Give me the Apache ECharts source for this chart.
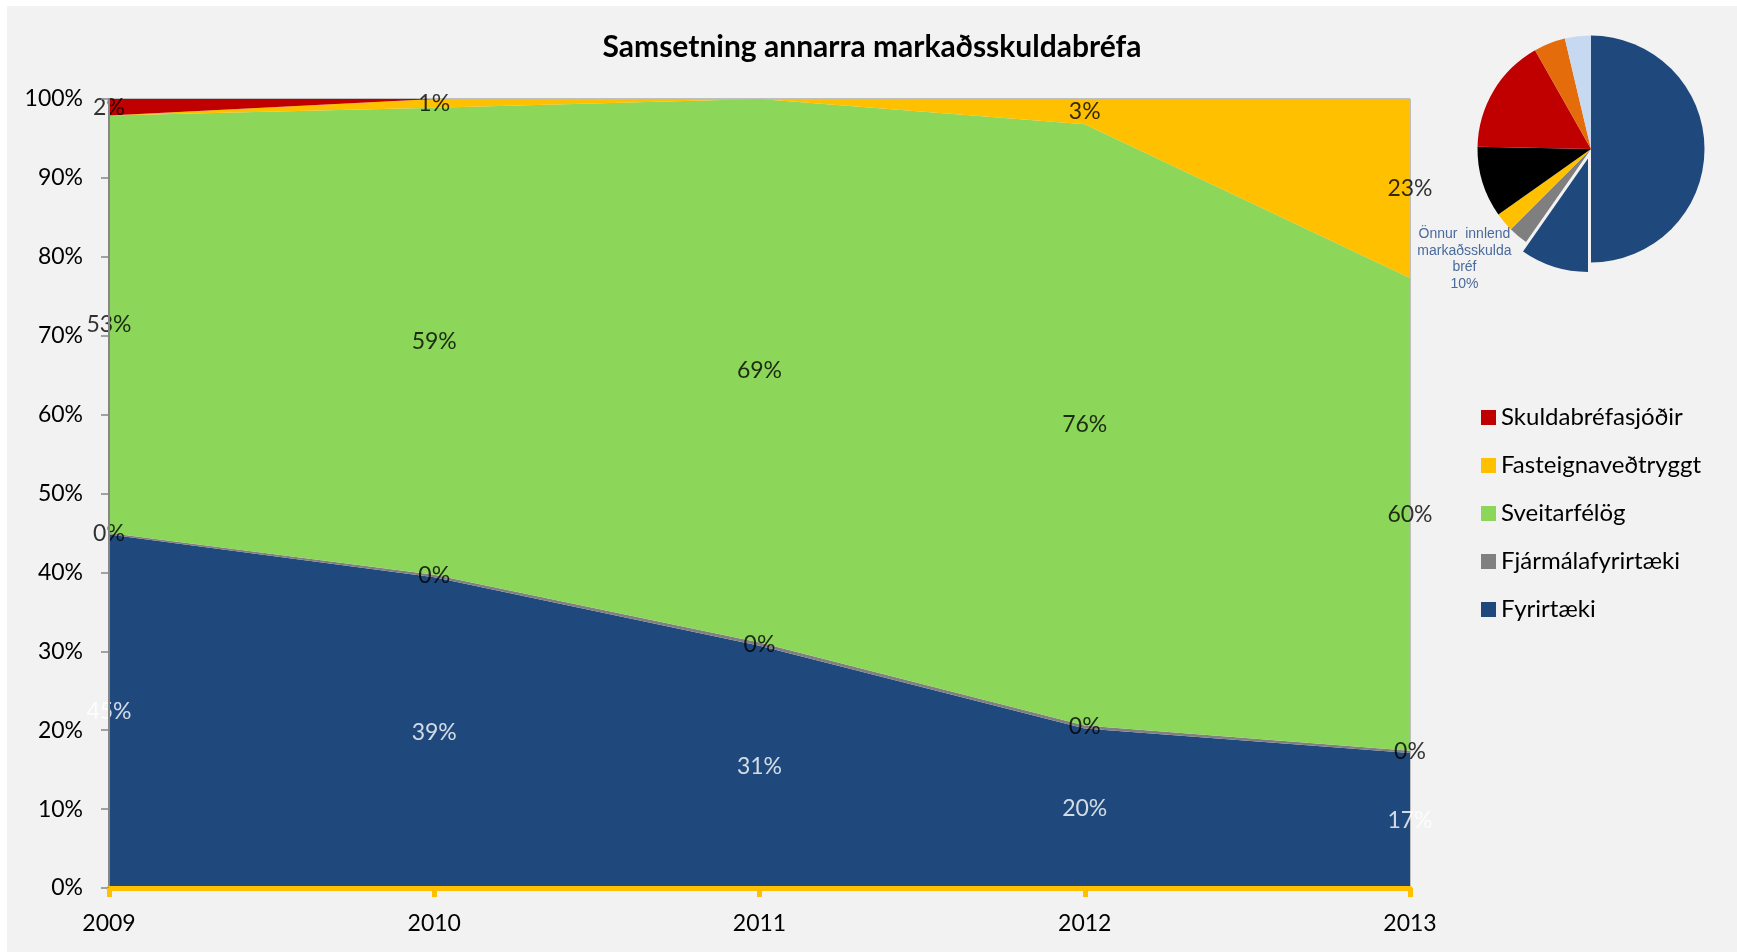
<!DOCTYPE html>
<html>
<head>
<meta charset="utf-8">
<script src="https://cdn.jsdelivr.net/npm/echarts@6/dist/echarts.min.js"></script>
<style>
  html, body { margin: 0; padding: 0; background: #ffffff; }
  #main { position: absolute; left: 7px; top: 6px; width: 1730px; height: 946px; }
</style>
</head>
<body>
<div id="main"></div>
<script>
const chartDom = document.getElementById('main');
const myChart = echarts.init(chartDom);

// ár
const years = ['2009', '2010', '2011', '2012', '2013'];

// hlutfall (%) hvers flokks, neðst upp í staflanum
const fyrirtaeki = [44.8, 39.4, 30.7, 20.2, 17.1];
const fjarmalafyrirtaeki = [0.2, 0.3, 0.4, 0.4, 0.3];
const sveitarfelog = [52.9, 59.2, 68.9, 76.2, 59.9];
const fasteignavedtryggt = [null, 1.1, null, 3.2, 22.7];
const skuldabrefasjodir = [2.1, null, null, null, null];

const yTicks = [0, 10, 20, 30, 40, 50, 60, 70, 80, 90, 100];

// litla kakan efst til hægri
const pieNames = ['Ríkistryggð bréf', 'Önnur innlend markaðsskuldabréf', 'Fjármálafyrirtæki',
  'Fasteignaveðtryggt', 'Hlutabréf', 'Skuldabréfasjóðir', 'Erlend bréf', 'Annað'];
const pieValues = [50.0, 9.7, 2.8, 2.7, 10.1, 16.5, 4.5, 3.7];
const pieColors = ['#1F497D', '#1F497D', '#7F7F7F', '#FFC000', '#000000', '#C00000', '#E46C0A', '#C6D9F1'];

const font = 'Lato, "Open Sans", sans-serif';

const stackSeries = [
  { name: 'Fyrirtæki', data: fyrirtaeki, color: '#1F497D', labelColor: '#ffffff' },
  { name: 'Fjármálafyrirtæki', data: fjarmalafyrirtaeki, color: '#808080', labelColor: '#000000' },
  { name: 'Sveitarfélög', data: sveitarfelog, color: '#8CD65A', labelColor: '#000000' },
  { name: 'Fasteignaveðtryggt', data: fasteignavedtryggt, color: '#FFC000', labelColor: '#000000' },
  { name: 'Skuldabréfasjóðir', data: skuldabrefasjodir, color: '#C00000', labelColor: '#000000' }
];

let seriesList = [];
let base = years.map(() => 0);

// svæðin
for (let s of stackSeries) {
  seriesList.push({
    type: 'line',
    name: s.name,
    stack: 'total',
    color: s.color,
    data: s.data.map((v) => (v === null ? 0 : v)),
    showSymbol: false,
    lineStyle: { width: 0 },
    areaStyle: { color: s.color, opacity: 1 },
    emphasis: { disabled: true },
    z: 2
  });
}

// gildismerki í miðju hvers svæðis
for (let s of stackSeries) {
  let pts = [];
  s.data.forEach((v, i) => {
    if (v !== null) {
      pts.push({ value: [i, base[i] + v / 2], raw: v });
      base[i] += v;
    }
  });
  seriesList.push({
    type: 'scatter',
    name: s.name + '_label',
    data: pts,
    symbolSize: 0,
    silent: true,
    z: 5,
    label: {
      show: true,
      position: 'inside',
      formatter: (p) => Math.round(p.data.raw) + '%',
      color: s.labelColor,
      fontFamily: font,
      fontSize: 23
    }
  });
}

const pieLabelStyle = {
  width: 100,
  align: 'center',
  color: '#4A6A9C',
  fontFamily: '"Liberation Sans", Arial, sans-serif',
  fontSize: 14,
  lineHeight: 16.5
};

seriesList.push({
  type: 'pie',
  name: 'kaka',
  center: [1584, 143],
  radius: [0, 113.5],
  startAngle: 90,
  clockwise: true,
  selectedMode: 'single',
  selectedOffset: 10,
  silent: true,
  avoidLabelOverlap: false,
  label: { show: false },
  labelLine: { show: false },
  labelLayout: (p) => (p.dataIndex === 1 ? { x: 1410, dy: -22 } : {}),
  itemStyle: { borderWidth: 0 },
  data: pieValues.map((v, i) => {
    let item = { name: pieNames[i], value: v, itemStyle: { color: pieColors[i] } };
    if (i === 1) {
      item.selected = true;
      item.label = {
        show: true,
        position: 'outside',
        formatter: (p) => '{a|Önnur  innlend}\n{a|markaðsskulda}\n{a|bréf}\n{a|' + Math.round(p.percent) + '%}',
        rich: { a: pieLabelStyle }
      };
    }
    return item;
  })
});

let option = {
  animation: false,
  backgroundColor: '#F2F2F2',
  title: {
    text: 'Samsetning annarra markaðsskuldabréfa',
    left: 'center',
    top: 21,
    textStyle: { fontFamily: font, fontWeight: 'bold', fontSize: 30, color: '#000000' }
  },
  legend: {
    orient: 'vertical',
    left: 1469,
    top: 394,
    icon: 'rect',
    itemWidth: 15,
    itemHeight: 15,
    itemGap: 23,
    selectedMode: false,
    data: ['Skuldabréfasjóðir', 'Fasteignaveðtryggt', 'Sveitarfélög', 'Fjármálafyrirtæki', 'Fyrirtæki'],
    textStyle: { fontFamily: font, fontSize: 24, color: '#000000', lineHeight: 25 }
  },
  grid: {
    left: 102,
    right: 327,
    top: 93,
    bottom: 64,
    show: true,
    borderColor: '#8C8C8C',
    borderWidth: 1,
    backgroundColor: 'transparent'
  },
  xAxis: {
    type: 'category',
    data: years,
    boundaryGap: false,
    axisLine: { lineStyle: { color: '#FFC000', width: 5 } },
    axisTick: { show: true, length: 9, lineStyle: { color: '#FFC000', width: 5 } },
    axisLabel: { margin: 24, fontFamily: font, fontSize: 23, color: '#000000' },
    splitLine: { show: false },
    z: 10
  },
  yAxis: {
    type: 'value',
    min: yTicks[0],
    max: yTicks[yTicks.length - 1],
    interval: 10,
    axisLine: { show: true, lineStyle: { color: '#868686', width: 2 } },
    axisTick: { show: true, length: 8, lineStyle: { color: '#868686', width: 1.5 } },
    axisLabel: { margin: 26, fontFamily: font, fontSize: 23, color: '#000000', formatter: '{value}%' },
    splitLine: { show: false },
    z: 10
  },
  series: seriesList
};

myChart.setOption(option);
</script>
</body>
</html>
